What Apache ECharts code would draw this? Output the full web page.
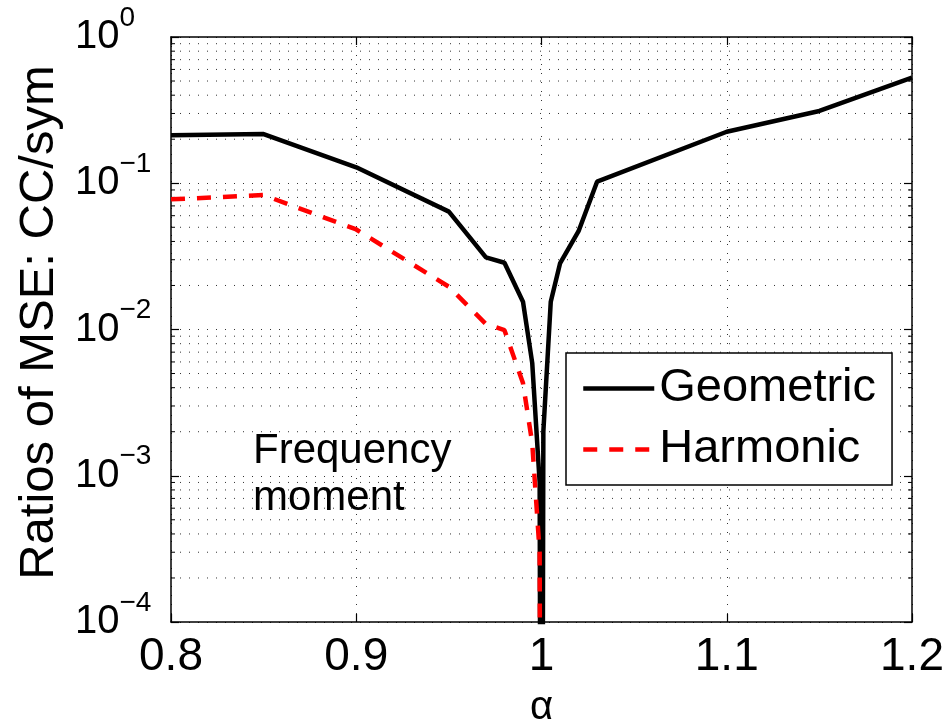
<!DOCTYPE html>
<html>
<head>
<meta charset="utf-8">
<script src="https://cdn.jsdelivr.net/npm/echarts@6/dist/echarts.min.js"></script>
<style>
html,body{margin:0;padding:0;background:#fff;}
#chart{width:951px;height:720px;}
</style>
</head>
<body>
<div id="chart"></div>
<script>
// ---- data ----
var alphaGeo = [0.8, 0.85, 0.9, 0.95, 0.97, 0.98, 0.99, 0.995, 0.999, 1.0, 1.001, 1.005, 1.01, 1.02, 1.03, 1.1, 1.15, 1.2];
var geometric = [0.213, 0.217, 0.1285, 0.064, 0.0311, 0.0286, 0.0155, 0.0059, 0.0009, 1e-8, 0.002, 0.0155, 0.0283, 0.047, 0.1025, 0.225, 0.312, 0.527];
var alphaHar = [0.8, 0.85, 0.9, 0.95, 0.97, 0.98, 0.99, 0.995, 0.999, 1.0];
var harmonic = [0.0776, 0.083, 0.0483, 0.0196, 0.0109, 0.0099, 0.0043, 0.00167, 0.0003, 1e-8];
var xTicks = [0.8, 0.9, 1.0, 1.1, 1.2];
var yDecades = [1e-4, 1e-3, 1e-2, 1e-1];
var minorMultipliers = [2, 3, 4, 5, 6, 7, 8, 9];
var seriesNames = ['Geometric', 'Harmonic'];
var xName = 'α';
var yName = 'Ratios of MSE: CC/sym';
var annotation = 'Frequency\nmoment';

// minor log ticks (2..9 x 10^k)
var minorY = [];
yDecades.forEach(function (d) { minorMultipliers.forEach(function (m) { minorY.push(+(d * m).toPrecision(3)); }); });

function pairs(xs, ys) { return xs.map(function (x, i) { return [x, ys[i]]; }); }

var FONT = '"Liberation Sans", Arial, Helvetica, sans-serif';
var DOT_COLOR = '#333';
var dotted = { color: DOT_COLOR, width: 1, type: [1, 8] };

var chart = echarts.init(document.getElementById('chart'), null, { renderer: 'canvas' });

function yLabel(v) {
  var e = Math.round(Math.log(v) / Math.LN10);
  var s = e < 0 ? '\u2212' + (-e) : String(e);
  return '{b|10}{s|' + s + '}';
}

var xMin = xTicks[0], xMax = xTicks[xTicks.length - 1];

var option = {
  backgroundColor: '#fff',
  animation: false,
  textStyle: { fontFamily: FONT },
  grid: { left: 171, right: 39, top: 37, bottom: 98, containLabel: false, outerBoundsMode: 'none' },
  legend: {
    data: seriesNames,
    orient: 'vertical',
    left: 566, top: 353,
    backgroundColor: '#fff',
    borderColor: '#000',
    borderWidth: 1.5,
    borderRadius: 0,
    padding: [12, 16, 12, 15],
    itemWidth: 71,
    itemHeight: 20,
    itemGap: 14,
    itemStyle: { opacity: 0 },
    lineStyle: { width: 4.5 },
    textStyle: { fontSize: 47, color: '#000', fontFamily: FONT },
    selectedMode: false
  },
  xAxis: [{
    type: 'value', min: xMin, max: xMax, interval: 0.1, position: 'bottom',
    axisLine: { lineStyle: { color: '#000', width: 1.5 } },
    axisTick: { inside: true, length: 8, lineStyle: { color: '#000', width: 1.2 } },
    axisLabel: { color: '#000', fontSize: 46, margin: 12, fontFamily: FONT,
      formatter: function (v) { return String(Math.round(v * 10) / 10); } },
    splitLine: { show: true, lineStyle: dotted },
    name: xName, nameLocation: 'middle', nameGap: 66,
    nameTextStyle: { color: '#000', fontSize: 40, fontFamily: FONT }
  }, {
    type: 'value', min: xMin, max: xMax, interval: 0.1, position: 'top',
    axisLine: { lineStyle: { color: '#000', width: 1.5 } },
    axisTick: { inside: true, length: 8, lineStyle: { color: '#000', width: 1.2 } },
    axisLabel: { show: false },
    splitLine: { show: false }
  }],
  yAxis: [{
    type: 'log', logBase: 10, min: 1e-4, max: 1, position: 'left',
    axisLine: { show: true, lineStyle: { color: '#000', width: 1.5 } },
    axisTick: { show: true, inside: true, length: 8, lineStyle: { color: '#000', width: 1.2 } },
    splitLine: { show: true, lineStyle: dotted },
    axisLabel: {
      color: '#000', align: 'left', margin: 96, verticalAlign: 'middle',
      formatter: yLabel,
      rich: {
        b: { fontSize: 40, lineHeight: 40, verticalAlign: 'middle', color: '#000', fontFamily: FONT },
        s: { fontSize: 28, lineHeight: 66, verticalAlign: 'top', color: '#000', fontFamily: FONT }
      }
    },
    name: yName, nameLocation: 'middle', nameGap: 107, nameRotate: 90,
    nameTextStyle: { color: '#000', fontSize: 49, fontFamily: FONT, padding: [0, 0, 0, 14] }
  }, {
    type: 'log', logBase: 10, min: 1e-4, max: 1, position: 'right',
    axisLine: { show: true, lineStyle: { color: '#000', width: 1.5 } },
    axisTick: { show: true, inside: true, length: 8, lineStyle: { color: '#000', width: 1.2 } },
    axisLabel: { show: false },
    splitLine: { show: false }
  }],
  series: [{
    // minor log grid lines and minor ticks, placed through the axis scales
    name: 'minor', type: 'custom', xAxisIndex: 0, yAxisIndex: 0,
    data: minorY.map(function (v) { return [v]; }),
    silent: true, z: 1, clip: false,
    encode: { y: 0 },
    renderItem: function (params, api) {
      var v = api.value(0);
      var pL = api.coord([xMin, v]);
      var pR = api.coord([xMax, v]);
      return {
        type: 'group',
        children: [{
          type: 'line', shape: { x1: pL[0], y1: pL[1], x2: pR[0], y2: pR[1] },
          style: { stroke: DOT_COLOR, lineWidth: 1, lineDash: [1, 8] }
        }, {
          type: 'line', shape: { x1: pL[0], y1: pL[1], x2: pL[0] + 4, y2: pL[1] },
          style: { stroke: '#000', lineWidth: 1 }
        }, {
          type: 'line', shape: { x1: pR[0] - 4, y1: pR[1], x2: pR[0], y2: pR[1] },
          style: { stroke: '#000', lineWidth: 1 }
        }]
      };
    }
  }, {
    name: seriesNames[0], type: 'line', xAxisIndex: 0, yAxisIndex: 0,
    data: pairs(alphaGeo, geometric),
    showSymbol: false, symbol: 'none', clip: true,
    lineStyle: { color: '#000', width: 4.5 },
    itemStyle: { color: '#000' },
    z: 3
  }, {
    name: seriesNames[1], type: 'line', xAxisIndex: 0, yAxisIndex: 0,
    data: pairs(alphaHar, harmonic),
    showSymbol: false, symbol: 'none', clip: true,
    lineStyle: { color: '#ff0000', width: 4.5, type: [14, 12] },
    itemStyle: { color: '#ff0000' },
    z: 4
  }],
  graphic: [{
    type: 'text', left: 253, top: 428, z: 10,
    style: { text: annotation, font: '42px ' + FONT, lineHeight: 47, fill: '#000' }
  }]
};
chart.setOption(option);
</script>
</body>
</html>
